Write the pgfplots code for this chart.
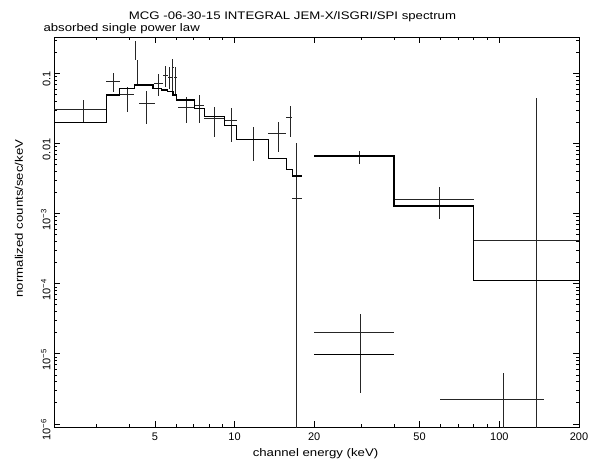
\documentclass[border=0pt]{standalone}
\usepackage{fontspec}
\setmainfont{Liberation Sans}
\newfontfamily\wide[FakeStretch=1.2]{Liberation Sans}
\usepackage{pgfplots}
\pgfplotsset{compat=1.18}
\usepackage{pgfplotstable}

\pgfplotstableread{
x y xlo xhi ylo yhi
2.68 0.0306 2.08 3.28 0.0197 0.0416
3.48 0.076 3.28 3.70 0.0536 0.100
3.94 0.050 3.68 4.17 0.0278 0.0644
4.22 0.22 4.19 4.25 0.155 0.289
4.29 0.122 4.27 4.31 0.068 0.155
4.64 0.0373 4.35 4.99 0.0187 0.0565
5.16 0.072 4.95 5.38 0.048 0.097
5.48 0.0945 5.35 5.60 0.0644 0.127
5.68 0.087 5.60 5.78 0.060 0.122
5.85 0.122 5.82 5.88 0.052 0.160
5.98 0.088 5.90 6.06 0.047 0.124
6.57 0.0327 6.10 7.06 0.0193 0.0464
7.37 0.0353 7.06 7.69 0.0193 0.049
8.39 0.0228 7.69 9.15 0.0125 0.0334
9.70 0.0211 9.15 10.18 0.0106 0.0317
11.77 0.0114 10.18 13.43 0.0056 0.017
14.6 0.0139 13.43 15.70 0.0076 0.0204
16.2 0.0233 15.70 16.53 0.0122 0.034
17.12 0.00165 16.53 17.94 0.00000001 0.0102
29.7 0.0066 20 40 0.00504 0.00787
59.5 0.00161 40 80 0.000826 0.00237
138 0.000409 80 200 0.00000001 0.045
30 0.000020 20 40 0.00000272 0.0000368
104 0.00000226 59.5 147.5 0.00000001 0.00000536
}\crosses

\begin{document}
\begin{tikzpicture}
\path[use as bounding box] (-54pt,-37pt) rectangle (542pt,427pt);
\begin{axis}[
  name=ax,
  at={(0pt,0pt)}, anchor=south west,
  scale only axis, width=525pt, height=390pt,
  xmode=log, ymode=log,
  xmin=2.08, xmax=200, ymin=9e-7, ymax=0.33,
  xtick={5,10,20,50,100,200},
  xticklabels={5,10,20,50,100,200},
  minor xtick={3,4,6,7,8,9,30,40,60,70,80,90},
  ytick={1e-6,1e-5,1e-4,1e-3,0.01,0.1},
  yticklabels={10\textsuperscript{−6},10\textsuperscript{−5},10\textsuperscript{−4},10\textsuperscript{−3},0.01,0.1},
  minor ytick={2e-6,3e-6,4e-6,5e-6,6e-6,7e-6,8e-6,9e-6,
               2e-5,3e-5,4e-5,5e-5,6e-5,7e-5,8e-5,9e-5,
               2e-4,3e-4,4e-4,5e-4,6e-4,7e-4,8e-4,9e-4,
               2e-3,3e-3,4e-3,5e-3,6e-3,7e-3,8e-3,9e-3,
               0.02,0.03,0.04,0.05,0.06,0.07,0.08,0.09,0.2,0.3},
  tick align=inside,
  major tick length=6.5pt, minor tick length=3.5pt,
  every tick/.style={black, line width=0.6pt},
  axis line style={line width=0.8pt},
  tick label style={font=\fontsize{11}{13}\selectfont},
  xticklabel style={yshift=-2.3pt},
  yticklabel style={rotate=90, anchor=south, xshift=-6pt},
]
\addplot[draw=none, mark=none,
  error bars/.cd, x dir=both, y dir=both, x explicit, y explicit, error mark=none,
  error bar style={draw=black!85, solid, line width=0.85pt}]
  table[x=x, y=y,
    x error plus expr=\thisrow{xhi}-\thisrow{x},
    x error minus expr=\thisrow{x}-\thisrow{xlo},
    y error plus expr=\thisrow{yhi}-\thisrow{y},
    y error minus expr=\thisrow{y}-\thisrow{ylo}] {\crosses};
\addplot[black, line width=1.2pt, const plot mark left] coordinates {
(2.0,0.0197) (3.28,0.049) (3.68,0.061) (4.20,0.068) (4.92,0.061) (5.29,0.058)
(5.60,0.055) (5.85,0.049) (6.05,0.0416) (7.06,0.0317) (7.69,0.024) (9.15,0.0179)
(10.18,0.0114) (13.43,0.00605) (15.70,0.00427) (16.53,0.00343) (17.94,0.00343)};
\addplot[black, line width=1.2pt, const plot mark left] coordinates {
(20,0.0066) (40,0.00128) (80,0.000112) (210,0.000112)};
\addplot[black, line width=1.2pt] coordinates {(20,0.0000098) (40,0.0000098)};
\end{axis}
\node[anchor=base, font=\wide\fontsize{11}{13}\selectfont] at ([xshift=238.5pt,yshift=407.7pt]ax.south west) {MCG -06-30-15 INTEGRAL JEM-X/ISGRI/SPI spectrum};
\node[anchor=base west, font=\wide\fontsize{11}{13}\selectfont] at ([xshift=-14pt,yshift=395.3pt]ax.south west) {absorbed single power law};
\node[anchor=base, font=\wide\fontsize{11}{13}\selectfont] at ([xshift=261.5pt,yshift=-29pt]ax.south west) {channel energy (keV)};
\node[anchor=center, rotate=90, font=\wide\fontsize{11}{13}\selectfont] at ([xshift=-35pt,yshift=208.5pt]ax.south west) {normalized counts/sec/keV};
\end{tikzpicture}
\end{document}
